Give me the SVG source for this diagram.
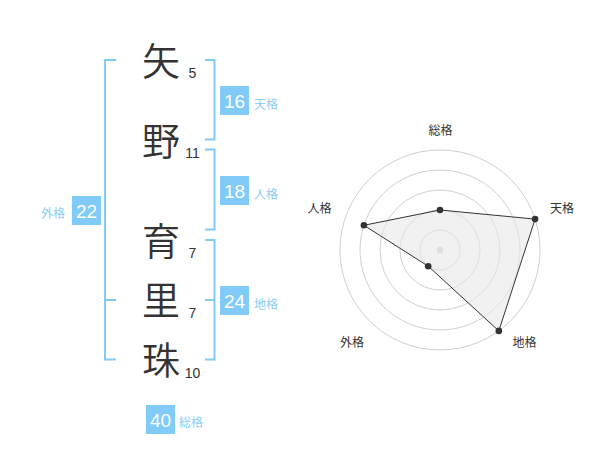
<svg xmlns="http://www.w3.org/2000/svg" width="600" height="470" viewBox="0 0 600 470">
<style>
.kanji{font-family:"Noto Sans CJK JP","Noto Sans CJK SC",sans-serif;font-size:38px;font-weight:350;fill:#333;text-anchor:middle}
.num{font-family:"Liberation Sans",Arial,sans-serif;font-size:14px;fill:#333;text-anchor:middle}
.br{fill:none;stroke:#80cbf8;stroke-width:2}
.box{fill:#80cbf8}
.bnum{font-family:"Liberation Sans",Arial,sans-serif;font-size:19px;fill:#fff;text-anchor:middle}
.blab{font-family:"Noto Sans CJK JP","Noto Sans CJK SC",sans-serif;font-size:12px;fill:#8ccdf3}
.ring{fill:none;stroke:#d0d0d0;stroke-width:1}
.rlab{font-family:"Noto Sans CJK JP","Noto Sans CJK SC",sans-serif;font-size:12px;fill:#333;text-anchor:middle}
.dot{fill:#333}
</style>
<rect width="600" height="470" fill="#fff"/>
<g id="name">
<text class="kanji" x="161" y="75">矢</text>
<text class="kanji" x="161" y="155">野</text>
<text class="kanji" x="161" y="255">育</text>
<text class="kanji" x="161" y="314">里</text>
<text class="kanji" x="161" y="374">珠</text>
<text class="num" x="192.5" y="78">5</text>
<text class="num" x="192.5" y="158">11</text>
<text class="num" x="192.5" y="258">7</text>
<text class="num" x="192.5" y="318">7</text>
<text class="num" x="192.5" y="378">10</text>
</g>
<g id="connectors">
<path class="br" d="M116,60 H105 V359.5 H116 M105,300 H116"/>
<path class="br" d="M205,60 H214.5 V139.5 H205"/>
<path class="br" d="M205,149.5 H214.5 V229.5 H205"/>
<path class="br" d="M205,240 H214.5 V359.5 H205 M205,300 H214.5"/>
</g>
<g id="tenkaku">
<rect class="box" x="220" y="86" width="29" height="29"/>
<text class="bnum" x="234.5" y="107.5">16</text>
<text class="blab" x="254" y="108.5">天格</text>
</g>
<g id="jinkaku">
<rect class="box" x="220" y="176" width="29" height="29"/>
<text class="bnum" x="234.5" y="197.5">18</text>
<text class="blab" x="254" y="198.5">人格</text>
</g>
<g id="chikaku">
<rect class="box" x="220" y="286" width="29" height="29"/>
<text class="bnum" x="234.5" y="307.5">24</text>
<text class="blab" x="254" y="308.5">地格</text>
</g>
<g id="gaikaku">
<rect class="box" x="72" y="196" width="29" height="29"/>
<text class="bnum" x="86.5" y="217.5">22</text>
<text class="blab" x="41" y="217.5">外格</text>
</g>
<g id="soukaku">
<rect class="box" x="146" y="405" width="29" height="29"/>
<text class="bnum" x="160.5" y="426.5">40</text>
<text class="blab" x="179" y="426.5">総格</text>
</g>
<g id="radar">
<circle class="ring" cx="440" cy="250" r="20"/>
<circle class="ring" cx="440" cy="250" r="40"/>
<circle class="ring" cx="440" cy="250" r="60"/>
<circle class="ring" cx="440" cy="250" r="80"/>
<circle class="ring" cx="440" cy="250" r="100"/>
<circle cx="440" cy="250" r="3.2" fill="#cccccc"/>
<polygon points="440,210 535.1,219.1 498.8,330.9 428.2,266.2 363.9,225.3" fill="#e8e8e8" fill-opacity="0.6" stroke="#333" stroke-width="1"/>
<circle class="dot" cx="440" cy="210" r="3.3"/>
<circle class="dot" cx="535.1" cy="219.1" r="3.3"/>
<circle class="dot" cx="498.8" cy="330.9" r="3.3"/>
<circle class="dot" cx="428.2" cy="266.2" r="3.3"/>
<circle class="dot" cx="363.9" cy="225.3" r="3.3"/>
<text class="rlab" x="440.5" y="135">総格</text>
<text class="rlab" x="562" y="213">天格</text>
<text class="rlab" x="319.5" y="213">人格</text>
<text class="rlab" x="352" y="346.5">外格</text>
<text class="rlab" x="524.5" y="346.5">地格</text>
</g>
</svg>
